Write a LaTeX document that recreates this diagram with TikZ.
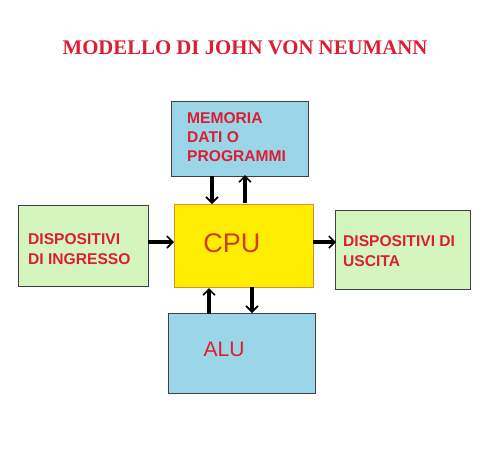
\documentclass[tikz,border=0pt]{standalone}
\usepackage{fontspec}
\setmainfont{Liberation Serif}
\setsansfont{Liberation Sans}
\usetikzlibrary{arrows.meta}
\definecolor{boxblue}{RGB}{155,214,232}
\definecolor{boxgreen}{RGB}{212,246,190}
\definecolor{cpuyellow}{RGB}{255,238,0}
\definecolor{cpuborder}{RGB}{228,140,40}
\definecolor{txtred}{RGB}{220,30,50}
\definecolor{cpured}{RGB}{210,60,30}
\begin{document}
\begin{tikzpicture}[x=1pt,y=-1pt,
  box/.style={draw=black!75,line width=0.8pt,inner sep=0pt},
  lbl/.style={font=\sffamily\bfseries\fontsize{15.6}{20}\selectfont,text=txtred,align=left,anchor=north west,inner sep=0pt},
  conn/.style={line width=3.2pt,-{Straight Barb[length=6pt,width=12pt,line width=1.6pt]}}]
\useasboundingbox (0,0) rectangle (483,453);
\fill[white] (0,0) rectangle (483,453);
\node[font=\bfseries\fontsize{20.8}{24}\selectfont,text=txtred] (title) at (245,48) {MODELLO DI JOHN VON NEUMANN};
% boxes
\path[box,fill=boxblue] (171,101) rectangle (308,176);
\node[lbl,font=\sffamily\bfseries\fontsize{15.6}{19}\selectfont] (mem) at (187,112) {MEMORIA\\DATI O\\PROGRAMMI};
\path[box,draw=cpuborder,fill=cpuyellow] (174,204) rectangle (313,287);
\node[font=\sffamily\fontsize{27}{30}\selectfont,text=cpured] (cpu) at (232,243) {CPU};
\path[box,fill=boxgreen] (18,205) rectangle (148,286);
\node[lbl] (ing) at (28,233) {DISPOSITIVI\\DI INGRESSO};
\path[box,fill=boxgreen] (335,210) rectangle (470,289);
\node[lbl] (usc) at (343,235) {DISPOSITIVI DI\\USCITA};
\path[box,fill=boxblue] (168,313) rectangle (315,393);
\node[font=\sffamily\fontsize{21}{25}\selectfont,text=txtred] (alu) at (224,349) {ALU};
% connector endpoints
\coordinate (m1) at (212,176); \coordinate (c1) at (212,204);
\coordinate (c2) at (245,203); \coordinate (m2) at (245,175);
\coordinate (i1) at (148,242); \coordinate (c3) at (174,242);
\coordinate (c4) at (313,242); \coordinate (u1) at (336,242);
\coordinate (a1) at (209,314); \coordinate (c5) at (209,288);
\coordinate (c6) at (252,287); \coordinate (a2) at (252,313);
\draw[conn] (m1) -- (c1);
\draw[conn] (c2) -- (m2);
\draw[conn] (i1) -- (c3);
\draw[conn] (c4) -- (u1);
\draw[conn] (a1) -- (c5);
\draw[conn] (c6) -- (a2);
\end{tikzpicture}
\end{document}
